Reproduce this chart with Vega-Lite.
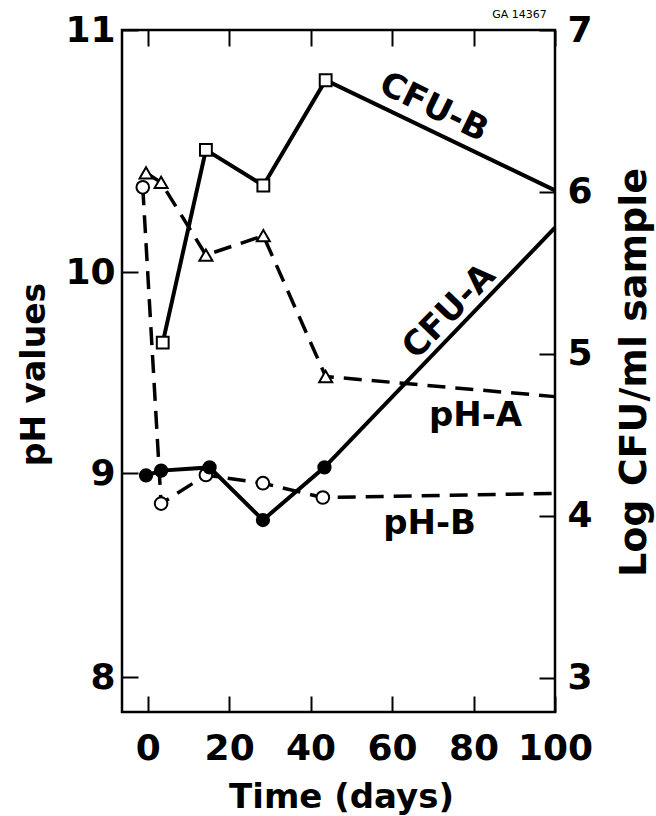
{
  "$schema": "https://vega.github.io/schema/vega-lite/v6.json",
  "width": 433,
  "height": 682,
  "autosize": {"type": "none"},
  "padding": {"left": 122, "top": 30, "right": 101, "bottom": 104},
  "background": "white",
  "config": {
    "view": {"stroke": "black", "strokeWidth": 2.5},
    "font": "DejaVu Sans",
    "axis": {
      "domain": false,
      "grid": false,
      "ticks": true,
      "tickColor": "black",
      "tickWidth": 2,
      "tickSize": -16,
      "labelFont": "DejaVu Sans",
      "labelFontWeight": "bold",
      "labelFontSize": 36,
      "labelColor": "black",
      "titleFont": "DejaVu Sans",
      "titleFontWeight": "bold",
      "titleColor": "black"
    }
  },
  "datasets": {
    "ph": [
      {"series": "pH-A", "day": -0.4, "ph": 10.41},
      {"series": "pH-A", "day": 3.3, "ph": 10.37},
      {"series": "pH-A", "day": 14.3, "ph": 10.07},
      {"series": "pH-A", "day": 28.4, "ph": 10.15},
      {"series": "pH-A", "day": 43.7, "ph": 9.48},
      {"series": "pH-A", "day": 100, "ph": 9.38},
      {"series": "pH-B", "day": -1.2, "ph": 10.35},
      {"series": "pH-B", "day": 3.3, "ph": 8.85},
      {"series": "pH-B", "day": 14.3, "ph": 8.99},
      {"series": "pH-B", "day": 28.3, "ph": 8.95},
      {"series": "pH-B", "day": 43.0, "ph": 8.88},
      {"series": "pH-B", "day": 100, "ph": 8.9}
    ],
    "cfu": [
      {"series": "CFU-A", "day": -0.4, "cfu": 4.25},
      {"series": "CFU-A", "day": 3.3, "cfu": 4.28},
      {"series": "CFU-A", "day": 15.2, "cfu": 4.3},
      {"series": "CFU-A", "day": 28.3, "cfu": 3.975},
      {"series": "CFU-A", "day": 43.4, "cfu": 4.3},
      {"series": "CFU-A", "day": 100, "cfu": 5.78},
      {"series": "CFU-B", "day": 3.7, "cfu": 5.07},
      {"series": "CFU-B", "day": 14.3, "cfu": 6.26},
      {"series": "CFU-B", "day": 28.4, "cfu": 6.04},
      {"series": "CFU-B", "day": 43.7, "cfu": 6.69},
      {"series": "CFU-B", "day": 100, "cfu": 6.01}
    ],
    "labels": [
      {"label": "CFU-B", "day": 70.2, "cfu": 6.52},
      {"label": "CFU-A", "day": 74.1, "cfu": 5.26},
      {"label": "pH-A", "day": 80.5, "cfu": 4.62},
      {"label": "pH-B", "day": 69.2, "cfu": 3.95},
      {"label": "GA 14367", "day": 91.3, "cfu": 7.09}
    ]
  },
  "layer": [
    {
      "data": {"name": "ph"},
      "encoding": {
        "x": {
          "field": "day",
          "type": "quantitative",
          "scale": {"domain": [-6.3, 100], "nice": false, "zero": false},
          "axis": {
            "orient": "bottom",
            "values": [0, 20, 40, 60, 80, 100],
            "labelPadding": 35,
            "labelFlush": false,
            "title": "Time (days)",
            "titleFontSize": 34,
            "titleBaseline": "alphabetic",
            "titleX": 219,
            "titleY": 95
          }
        },
        "y": {
          "field": "ph",
          "type": "quantitative",
          "scale": {"domain": [7.83, 8, 9, 10, 11], "range": [682, 647, 443, 242, 0], "nice": false, "zero": false},
          "axis": {
            "orient": "left",
            "values": [8, 9, 10, 11],
            "labelPadding": 23,
            "labelFlush": false,
            "title": "pH values",
            "titleFontSize": 33,
            "titleAngle": 270,
            "titleBaseline": "alphabetic",
            "titleX": -78,
            "titleY": 344
          }
        }
      },
      "layer": [
        {
          "mark": {"type": "line", "color": "black", "strokeWidth": 3.5, "strokeDash": [18, 10]},
          "encoding": {"detail": {"field": "series"}}
        },
        {
          "transform": [{"filter": "datum.day < 100"}],
          "mark": {"type": "point", "filled": true, "fill": "white", "stroke": "black", "strokeWidth": 2, "opacity": 1},
          "encoding": {
            "shape": {"field": "series", "type": "nominal", "scale": {"domain": ["pH-A", "pH-B", "CFU-A", "CFU-B"], "range": ["triangle-up", "circle", "circle", "square"]}, "legend": null},
            "size": {"field": "series", "type": "nominal", "scale": {"domain": ["pH-A", "pH-B", "CFU-A", "CFU-B"], "range": [170, 140, 180, 160]}, "legend": null}
          }
        }
      ]
    },
    {
      "data": {"name": "cfu"},
      "encoding": {
        "x": {
          "field": "day",
          "type": "quantitative",
          "scale": {"domain": [-6.3, 100], "nice": false, "zero": false},
          "axis": {"orient": "top", "values": [0, 20, 40, 60, 80, 100], "labels": false, "title": null}
        },
        "y": {
          "field": "cfu",
          "type": "quantitative",
          "scale": {"domain": [2.79, 7], "nice": false, "zero": false},
          "axis": {
            "orient": "right",
            "values": [3, 4, 5, 6, 7],
            "labelPadding": 28,
            "labelFlush": false,
            "title": "Log CFU/ml sample",
            "titleFontSize": 38,
            "titleAngle": 270,
            "titleBaseline": "alphabetic",
            "titleX": 90,
            "titleY": 342
          }
        }
      },
      "layer": [
        {
          "mark": {"type": "line", "color": "black", "strokeWidth": 4},
          "encoding": {"detail": {"field": "series"}}
        },
        {
          "transform": [{"filter": "datum.day < 100"}],
          "mark": {"type": "point", "filled": true, "stroke": "black", "strokeWidth": 2, "opacity": 1},
          "encoding": {
            "shape": {"field": "series", "type": "nominal", "scale": {"domain": ["pH-A", "pH-B", "CFU-A", "CFU-B"], "range": ["triangle-up", "circle", "circle", "square"]}, "legend": null},
            "fill": {"field": "series", "type": "nominal", "scale": {"domain": ["CFU-A", "CFU-B"], "range": ["black", "white"]}, "legend": null},
            "size": {"field": "series", "type": "nominal", "scale": {"domain": ["pH-A", "pH-B", "CFU-A", "CFU-B"], "range": [170, 140, 180, 160]}, "legend": null}
          }
        },
        {
          "data": {"name": "labels"},
          "transform": [{"filter": "datum.label == 'CFU-B'"}],
          "mark": {"type": "text", "font": "DejaVu Sans", "fontWeight": "bold", "fontSize": 34, "angle": 26, "align": "center", "baseline": "middle", "color": "black"},
          "encoding": {"text": {"field": "label"}}
        },
        {
          "data": {"name": "labels"},
          "transform": [{"filter": "datum.label == 'CFU-A'"}],
          "mark": {"type": "text", "font": "DejaVu Sans", "fontWeight": "bold", "fontSize": 34, "angle": -46, "align": "center", "baseline": "middle", "color": "black"},
          "encoding": {"text": {"field": "label"}}
        },
        {
          "data": {"name": "labels"},
          "transform": [{"filter": "datum.label == 'pH-A' || datum.label == 'pH-B'"}],
          "mark": {"type": "text", "font": "DejaVu Sans", "fontWeight": "bold", "fontSize": 34, "align": "center", "baseline": "middle", "color": "black"},
          "encoding": {"text": {"field": "label"}}
        },
        {
          "data": {"name": "labels"},
          "transform": [{"filter": "datum.label == 'GA 14367'"}],
          "mark": {"type": "text", "font": "DejaVu Sans", "fontSize": 11, "align": "center", "baseline": "middle", "color": "black"},
          "encoding": {"text": {"field": "label"}}
        }
      ]
    }
  ],
  "resolve": {"scale": {"y": "independent", "x": "independent"}}
}
